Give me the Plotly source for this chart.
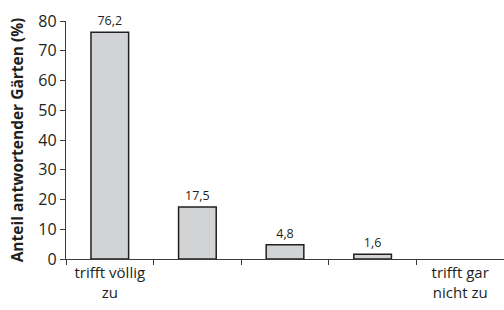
import plotly.graph_objects as go

categories = ["trifft völlig<br>zu", " ", "  ", "   ", "trifft gar<br>nicht zu"]
values = [76.2, 17.5, 4.8, 1.6, 0]
value_labels = ["76,2", "17,5", "4,8", "1,6", ""]
y_ticks = [0, 10, 20, 30, 40, 50, 60, 70, 80]

txt = "#231f20"
fig = go.Figure(go.Bar(
    x=categories, y=values, text=value_labels, textposition="outside",
    textfont=dict(size=12.5, color=txt, family="Open Sans"),
    marker=dict(color="#d1d3d4", line=dict(color="#231f20", width=[1.5, 1.5, 1.5, 1.5, 0])),
    cliponaxis=False,
))
fig.update_layout(
    width=504, height=310,
    margin=dict(l=66, r=0, t=21, b=51),
    paper_bgcolor="white", plot_bgcolor="white",
    bargap=0.57, showlegend=False,
    font=dict(family="Open Sans", color=txt),
    xaxis=dict(type="category", range=[-0.5, 4.5], showline=True, linecolor="#3a3a3a", linewidth=1.3,
               ticks="outside", tickson="boundaries", ticklen=5, tickcolor="#3a3a3a", tickwidth=1.2,
               tickfont=dict(size=15, color=txt), showgrid=False, automargin=False),
    yaxis=dict(range=[0, 80], tickvals=y_ticks, showline=True, linecolor="#3a3a3a", linewidth=1.3,
               ticks="outside", ticklen=5, tickcolor="#3a3a3a", tickwidth=1.2,
               tickfont=dict(size=16, color=txt), showgrid=False, zeroline=False, automargin=False,
               title=dict(text="<b>Anteil antwortender Gärten (%)</b>", font=dict(size=15.5, color=txt), standoff=10)),
)
fig.write_html("out.html", config={"displayModeBar": False},
               post_script="document.body.style.margin='0';document.body.style.overflow='hidden';")
